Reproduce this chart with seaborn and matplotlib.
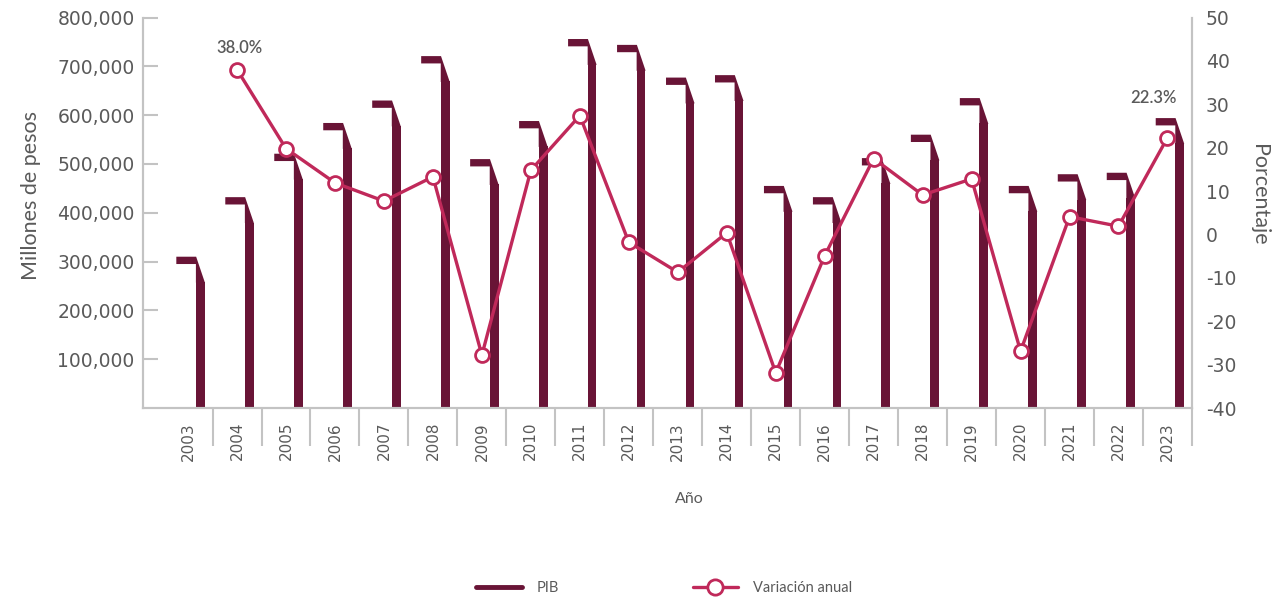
import numpy as np
import pandas as pd
import seaborn as sns
import matplotlib.pyplot as plt
from matplotlib.lines import Line2D
from matplotlib.ticker import FuncFormatter

# === datos ===
anios = [str(a) for a in range(2003, 2024)]
pib = [310000, 432000, 521000, 584000, 630000, 721000, 510000, 588000, 756000, 744000,
       677000, 682000, 455000, 432000, 512000, 560000, 635000, 455000, 479000, 482000, 594000]
variacion = [38.0, 19.8, 11.9, 7.7, 13.3, -27.8, 14.8, 27.4, -1.8, -8.7,
             0.4, -31.9, -4.9, 17.5, 9.1, 12.8, -26.9, 4.1, 1.9, 22.3]

# === estilo ===
sns.set_theme(style="white")
plt.rcParams["font.family"] = ["Lato", "DejaVu Sans"]
plt.rcParams["axes.unicode_minus"] = False
COLOR_PIB = "#691436"
COLOR_VAR = "#c0295a"
GRIS = "#5a5a5a"
GRIS_EJE = "#c3c3c3"
NUM_FONT = "DejaVu Sans"

DROP = 52000   # caída de la esquina biselada
CAP = 15000    # grosor de la tapa

fig = plt.figure(figsize=(12.77, 6.05), dpi=100)
ax = fig.add_axes([0.112, 0.3256, 0.8214, 0.6454])

df = pd.DataFrame({"Año": anios, "PIB": pib})
df["Tallo"] = df["PIB"] - DROP

# tallos delgados a la derecha de cada categoría
sns.barplot(data=df, x="Año", y="Tallo", color=COLOR_PIB, saturation=1, width=0.18, ax=ax)
for p in ax.patches:
    p.set_x(p.get_x() + 0.25)
    p.set_linewidth(0)

# tapas con esquina biselada
for i, v in enumerate(pib):
    xs = [i - 0.24, i + 0.165, i + 0.34, i + 0.34, i + 0.16, i + 0.16, i - 0.24]
    ys = [v, v, v - DROP, v - DROP - 1000, v - DROP - 1000, v - CAP, v - CAP]
    ax.fill(xs, ys, color=COLOR_PIB, lw=0, zorder=3)

ax.set_xlim(-0.92, 20.5)
ax.set_ylim(0, 800000)
ax.set_yticks(np.arange(100000, 800001, 100000))
ax.yaxis.set_major_formatter(FuncFormatter(lambda v, _: f"{int(v):,}"))
ax.tick_params(axis="y", direction="in", length=11, width=1.5, color=GRIS_EJE,
               labelsize=13.5, labelcolor=GRIS, pad=6, left=True)
for t in ax.get_yticklabels():
    t.set_family(NUM_FONT)

ax.set_xticks(range(len(anios)))
ax.set_xticklabels(anios, rotation=90)
ax.set_xticks(np.arange(0.5, len(anios), 1), minor=True)
ax.tick_params(axis="x", which="major", length=0, labelsize=11, labelcolor=GRIS, pad=10)
ax.tick_params(axis="x", which="minor", length=27, width=1.5, color=GRIS_EJE, bottom=True)
for t in ax.get_xticklabels():
    t.set_family(NUM_FONT)

ax.set_xlabel("Año", fontsize=11.5, color=GRIS)
ax.xaxis.set_label_coords(0.521, -0.214)
ax.set_ylabel("Millones de pesos", fontsize=15.5, color=GRIS)
ax.yaxis.set_label_coords(-0.097, 0.545)

for s in ["left", "bottom", "right"]:
    ax.spines[s].set_color(GRIS_EJE)
    ax.spines[s].set_linewidth(1.5)
ax.spines["top"].set_visible(False)

# === variación anual ===
ax2 = ax.twinx()
sns.lineplot(x=np.arange(1, len(anios)), y=variacion, ax=ax2, color=COLOR_VAR,
             linewidth=2.4, marker="o", markersize=10, markerfacecolor="white",
             markeredgecolor=COLOR_VAR, markeredgewidth=2, zorder=5)
ax2.set_ylim(-40, 50)
ax2.set_yticks(np.arange(-40, 51, 10))
ax2.tick_params(axis="y", length=0, labelsize=13.5, labelcolor=GRIS, pad=10)
for t in ax2.get_yticklabels():
    t.set_family(NUM_FONT)
ax2.set_yticks([50], minor=True)
ax2.tick_params(axis="y", which="minor", direction="in", length=11, width=1.5,
                color=GRIS_EJE, right=True)
ax2.set_ylabel("Porcentaje", fontsize=15.5, color=GRIS, rotation=270, va="center")
ax2.yaxis.set_label_coords(1.064, 0.545)
for s in ["left", "bottom", "right"]:
    ax2.spines[s].set_color(GRIS_EJE)
    ax2.spines[s].set_linewidth(1.5)
ax2.spines["top"].set_visible(False)
ax2.grid(False)
ax.grid(False)

ax2.annotate(f"{variacion[0]:.1f}%", (1, variacion[0]), xytext=(2, 12),
             textcoords="offset points", ha="center", fontsize=12,
             fontweight="semibold", color=GRIS)
ax2.annotate(f"{variacion[-1]:.1f}%", (len(anios) - 1, variacion[-1]), xytext=(-10, 25),
             textcoords="offset points", ha="center", fontsize=12,
             fontweight="semibold", color=GRIS)

# === leyenda ===
handles = [
    Line2D([], [], color=COLOR_PIB, linewidth=3.5),
    Line2D([], [], color=COLOR_VAR, linewidth=2.4, marker="o", markersize=11,
           markerfacecolor="white", markeredgewidth=2),
]
fig.legend(handles, ["PIB", "Variación anual"], loc="lower center", ncol=2,
           bbox_to_anchor=(0.520, -0.005), frameon=False, fontsize=10.5,
           labelcolor=GRIS, handlelength=3.1, columnspacing=9.2, handletextpad=1.0)

fig.savefig("out.png", dpi=100)
